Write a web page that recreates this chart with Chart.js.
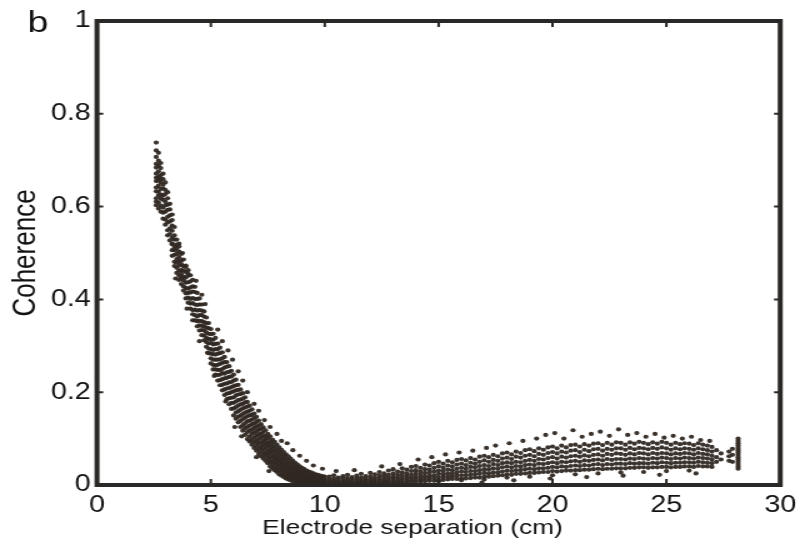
<!DOCTYPE html>
<html>
<head>
<meta charset="utf-8">
<script src="https://cdn.jsdelivr.net/npm/chart.js@4.4.1/dist/chart.umd.min.js"></script>
<style>
  html, body { margin: 0; padding: 0; background: #fff; overflow: hidden; }
  /* the scanned figure is stretched horizontally, so the whole chart is too */
  #wrap { width: 644px; height: 547px; transform: scaleX(1.25); transform-origin: 0 0; }
</style>
</head>
<body>
<div id="wrap"><canvas id="chart"></canvas></div>
<script>
// Coherence vs electrode separation.
const xTicks = [0, 5, 10, 15, 20, 25, 30];
const yTicks = [0, 0.2, 0.4, 0.6, 0.8, 1];

// steep fall, one column of points per separation (cm)
const descentSep = [2.6, 2.7, 2.8, 2.9, 3.0, 3.1, 3.2, 3.3, 3.4, 3.5, 3.6, 3.7, 3.8, 3.9,
  4.0, 4.1, 4.2, 4.3, 4.4, 4.5, 4.6, 4.7, 4.8, 4.9, 5.0, 5.1, 5.2, 5.3, 5.4, 5.5, 5.6, 5.7,
  5.8, 5.9, 6.0, 6.1, 6.2, 6.3, 6.4, 6.5, 6.6, 6.7, 6.8, 6.9, 7.0, 7.1, 7.2, 7.3, 7.4, 7.5,
  7.6, 7.7, 7.8, 7.9, 8.0, 8.1, 8.2, 8.3, 8.4, 8.5, 8.6, 8.7, 8.8, 8.9, 9.0, 9.1, 9.2, 9.3,
  9.4, 9.5, 9.6, 9.7, 9.8, 9.9, 10.0];
const descentCoh = [
  [.738, .721, .707, .692, .684, .671, .662, .655, .641, .633, .618, .611, .603],
  [.716, .699, .688, .676, .664, .657, .645, .632, .624, .609, .596],
  [.694, .683, .668, .661, .652, .638, .626, .617, .602, .589],
  [.671, .659, .647, .639, .624, .615, .598, .587, .574],
  [.652, .636, .627, .611, .603, .589, .572, .561],
  [.631, .618, .604, .593, .578, .566, .549, .538],
  [.606, .594, .581, .568, .553, .541, .527],
  [.583, .571, .559, .548, .533, .519, .506, .494],
  [.556, .538, .529, .513, .506, .496, .481, .472],
  [.529, .518, .509, .498, .487, .479, .468, .457],
  [.514, .503, .491, .482, .473, .462, .451, .442],
  [.498, .484, .476, .463, .455, .446, .433],
  [.486, .471, .462, .449, .441, .428, .419],
  [.473, .459, .447, .436, .425, .413, .402],
  [.463, .451, .437, .423, .414, .404, .393],
  [.452, .439, .426, .415, .401, .391, .38],
  [.442, .428, .417, .403, .392, .377, .368],
  [.427, .416, .401, .389, .378, .366, .355],
  [.414, .401, .388, .376, .363, .353, .342],
  [.402, .389, .377, .366, .354, .344, .333],
  [.389, .376, .366, .353, .343, .334, .323],
  [.374, .363, .351, .342, .333, .322, .312],
  [.361, .349, .339, .329, .317, .308, .298],
  [.349, .338, .326, .315, .305, .294, .284],
  [.336, .325, .314, .306, .293, .283, .273, .262],
  [.326, .313, .303, .291, .282, .27, .259, .249],
  [.317, .304, .293, .281, .27, .258, .249, .238],
  [.305, .293, .283, .27, .259, .248, .237, .225],
  [.296, .284, .271, .261, .248, .238, .226, .215],
  [.286, .273, .263, .25, .241, .228, .216, .204],
  [.276, .265, .253, .24, .23, .218, .206, .194],
  [.265, .255, .243, .231, .219, .208, .197, .185],
  [.256, .244, .233, .221, .209, .198, .187, .174],
  [.246, .234, .222, .211, .2, .188, .177, .164],
  [.238, .225, .213, .202, .189, .177, .165, .15],
  [.227, .215, .204, .193, .18, .168, .156, .143],
  [.216, .205, .195, .183, .171, .159, .147, .135],
  [.206, .196, .184, .174, .162, .15, .138, .125],
  [.198, .186, .175, .165, .153, .142, .129, .117],
  [.189, .178, .167, .156, .145, .133, .122, .108],
  [.179, .169, .158, .148, .137, .125, .114, .099],
  [.171, .16, .15, .139, .128, .117, .105, .094],
  [.163, .151, .141, .131, .12, .11, .098, .087],
  [.154, .144, .133, .123, .113, .102, .092, .08],
  [.147, .136, .126, .116, .106, .095, .085, .074],
  [.139, .128, .119, .109, .099, .089, .079, .067],
  [.131, .121, .111, .102, .092, .082, .073, .062],
  [.124, .114, .105, .095, .086, .077, .067, .057],
  [.118, .106, .098, .089, .08, .07, .062, .052],
  [.11, .101, .091, .083, .074, .065, .056, .047],
  [.105, .094, .085, .076, .068, .059, .05, .04],
  [.098, .089, .08, .071, .062, .053, .045, .036],
  [.093, .083, .074, .065, .057, .049, .04, .032],
  [.087, .077, .069, .06, .052, .044, .036, .028],
  [.081, .072, .064, .055, .047, .04, .032, .023],
  [.076, .067, .058, .05, .043, .035, .028, .02],
  [.071, .062, .054, .046, .039, .032, .024, .017],
  [.066, .057, .049, .042, .035, .028, .021, .014],
  [.062, .053, .045, .038, .032, .025, .018, .012],
  [.057, .048, .041, .035, .028, .022, .016, .01],
  [.052, .044, .037, .031, .025, .019, .013, .008],
  [.048, .04, .034, .028, .022, .017, .012, .007],
  [.044, .037, .03, .025, .019, .014, .01, .006],
  [.04, .033, .027, .022, .017, .012, .008, .005],
  [.037, .03, .025, .02, .015, .011, .007, .004],
  [.034, .028, .022, .018, .013, .009, .006, .003],
  [.031, .025, .02, .016, .012, .008, .005, .002],
  [.029, .023, .018, .014, .01, .007, .004],
  [.027, .021, .016, .012, .009, .006, .003],
  [.025, .019, .015, .011, .008, .005, .002],
  [.023, .018, .013, .01, .007, .004, .002],
  [.022, .016, .012, .009, .006, .003],
  [.02, .015, .011, .008, .005, .002],
  [.019, .014, .01, .007, .004, .002],
  [.018, .013, .009, .006, .004, .001]
];

// slow rise after the minimum
const riseSep = [10.2, 10.4, 10.6, 10.8, 11, 11.2, 11.4, 11.6, 11.8, 12, 12.2, 12.4, 12.6, 12.8,
  13, 13.2, 13.4, 13.6, 13.8, 14, 14.2, 14.4, 14.6, 14.8, 15, 15.2, 15.4, 15.6, 15.8, 16,
  16.2, 16.4, 16.6, 16.8, 17, 17.2, 17.4, 17.6, 17.8, 18, 18.2, 18.4, 18.6, 18.8, 19, 19.2,
  19.4, 19.6, 19.8, 20, 20.2, 20.4, 20.6, 20.8, 21, 21.2, 21.4, 21.6, 21.8, 22, 22.2, 22.4,
  22.6, 22.8, 23, 23.2, 23.4, 23.6, 23.8, 24, 24.2, 24.4, 24.6, 24.8, 25, 25.2, 25.4, 25.6,
  25.8, 26, 26.2, 26.4, 26.6, 26.8, 27];
const riseCoh = [
  [.018, .012, .008, .005, .003, .001],
  [.021, .014, .009, .006, .003, .001],
  [.016, .011, .007, .004, .002, 0],
  [.019, .013, .008, .005, .002, .001],
  [.022, .015, .01, .006, .003, .001],
  [.017, .012, .008, .004, .002, 0],
  [.02, .014, .009, .005, .003, .001],
  [.024, .016, .011, .007, .004, .001],
  [.019, .013, .009, .005, .002, .001],
  [.026, .018, .012, .008, .004, .002],
  [.023, .016, .011, .007, .004, .002],
  [.028, .02, .014, .009, .005, .002],
  [.025, .019, .013, .009, .006, .003],
  [.031, .022, .016, .011, .007, .003],
  [.034, .025, .018, .013, .008, .004],
  [.029, .022, .016, .011, .007, .004],
  [.036, .027, .02, .014, .009, .005],
  [.033, .025, .019, .014, .009, .005],
  [.039, .03, .022, .016, .011, .006],
  [.041, .032, .025, .018, .012, .007],
  [.037, .029, .022, .016, .011, .007],
  [.044, .034, .026, .019, .013, .008],
  [.042, .033, .026, .019, .014, .009],
  [.047, .037, .029, .021, .015, .009],
  [.05, .04, .031, .024, .017, .011, .008],
  [.046, .037, .03, .023, .017, .011],
  [.052, .042, .033, .025, .018, .012],
  [.049, .04, .032, .025, .019, .013],
  [.054, .044, .035, .027, .02, .013],
  [.056, .046, .037, .029, .021, .014, .01],
  [.053, .043, .035, .028, .021, .014],
  [.058, .048, .039, .03, .022, .015],
  [.055, .046, .038, .03, .023, .016],
  [.061, .05, .041, .032, .024, .016],
  [.063, .053, .043, .034, .026, .018, .012],
  [.06, .05, .041, .033, .025, .018],
  [.065, .054, .045, .036, .027, .019],
  [.062, .052, .043, .035, .027, .02],
  [.068, .057, .047, .038, .029, .021],
  [.07, .059, .049, .04, .031, .023, .016],
  [.066, .056, .047, .038, .03, .022],
  [.072, .061, .05, .041, .032, .024],
  [.069, .059, .049, .04, .032, .024],
  [.075, .063, .052, .043, .034, .025],
  [.077, .065, .054, .044, .035, .026, .018],
  [.073, .062, .052, .043, .034, .026],
  [.079, .067, .056, .046, .036, .027],
  [.076, .065, .055, .045, .036, .028],
  [.081, .069, .058, .047, .037, .028],
  [.083, .071, .06, .049, .039, .03, .021],
  [.079, .068, .057, .047, .038, .029],
  [.085, .072, .061, .05, .04, .03],
  [.081, .07, .059, .049, .039, .031],
  [.086, .074, .062, .051, .041, .031],
  [.087, .075, .063, .052, .042, .032, .023],
  [.083, .071, .061, .05, .041, .032],
  [.088, .076, .064, .053, .043, .033],
  [.085, .073, .062, .052, .042, .033],
  [.089, .077, .065, .054, .044, .034],
  [.09, .078, .066, .055, .045, .035, .025],
  [.086, .074, .063, .053, .043, .034],
  [.091, .078, .067, .056, .045, .035],
  [.087, .076, .065, .054, .044, .035],
  [.092, .079, .068, .056, .046, .036],
  [.091, .079, .067, .056, .046, .036, .027],
  [.087, .076, .065, .055, .045, .036],
  [.092, .08, .068, .057, .047, .037],
  [.089, .077, .066, .056, .046, .037],
  [.093, .08, .069, .058, .047, .038],
  [.091, .079, .068, .057, .047, .038, .028],
  [.088, .077, .066, .056, .046, .037],
  [.092, .08, .069, .058, .048, .038],
  [.089, .078, .067, .057, .047, .038],
  [.093, .081, .069, .059, .049, .039],
  [.091, .079, .068, .058, .048, .039, .03],
  [.087, .076, .066, .056, .047, .038],
  [.091, .079, .068, .058, .048, .039],
  [.088, .077, .067, .057, .048, .039],
  [.09, .079, .069, .059, .049, .04],
  [.089, .078, .068, .058, .049, .04, .031],
  [.086, .076, .066, .057, .048, .039],
  [.09, .079, .069, .059, .05, .041],
  [.087, .077, .067, .058, .049, .04],
  [.085, .075, .066, .057, .048, .04],
  [.082, .072, .063, .055, .047, .039]
];

// scattered dots off the main band
const strayPoints = [
  [3.3, .52], [3.45, .445], [3.6, .52], [3.75, .50], [3.9, .47], [4.0, .455], [4.35, .44],
  [4.6, .41], [4.75, .39], [4.5, .31], [4.85, .285], [5.3, .335], [5.5, .31], [5.75, .29],
  [5.95, .27], [6.2, .245], [6.4, .225], [6.05, .125], [6.6, .2], [6.9, .175], [7.1, .16],
  [7.35, .14], [7.6, .125], [7.9, .11], [8.1, .095], [8.35, .09], [8.6, .075], [8.9, .063],
  [9.2, .052], [9.5, .042], [9.9, .035], [4.2, .355], [3.95, .38], [5.15, .235], [5.65, .18],
  [6.35, .105], [7.0, .06], [7.55, .03], [10.5, .03], [11.3, .032], [12.5, .04], [13.3, .045],
  [14.1, .055], [14.7, .06], [15.3, .066], [15.9, .07], [16.5, .074], [17.1, .08], [17.5, .085],
  [18.1, .09], [18.7, .095], [19.3, .1], [19.7, .108], [20.1, .112], [20.5, .1], [20.9, .118],
  [21.3, .104], [21.7, .11], [22.1, .115], [22.5, .106], [22.9, .12], [23.3, .108], [23.7, .112],
  [24.1, .104], [24.5, .11], [24.9, .102], [25.3, .106], [25.7, .1], [26.1, .104], [26.5, .097],
  [26.9, .095], [16.9, .005], [18.3, .01], [19.9, .014], [21.5, .017], [23.1, .02], [24.7, .022],
  [26.3, .025]
];

// sparse columns past the cloud and the short stack at ~28 cm
const tailPoints = [
  [27.2, .075], [27.2, .06], [27.2, .05], [27.4, .068], [27.4, .055], [27.75, .072], [27.75, .062],
  [27.75, .052], [27.9, .078], [27.9, .065], [27.9, .05],
  [28.15, .035], [28.15, .04], [28.15, .045], [28.15, .05], [28.15, .055], [28.15, .06],
  [28.15, .065], [28.15, .07], [28.15, .075], [28.15, .08], [28.15, .085], [28.15, .09],
  [28.15, .095], [28.15, .1]
];

const FONT = '"Liberation Sans", Arial, Helvetica, sans-serif';
const INK = '#111';

function columnsToPoints(seps, cohs) {
  const pts = [];
  seps.forEach((s, i) => (cohs[i] || []).forEach(c => pts.push({ x: s, y: c })));
  return pts;
}

const allPoints = [
  ...columnsToPoints(descentSep, descentCoh),
  ...columnsToPoints(riseSep, riseCoh),
  ...strayPoints.map(p => ({ x: p[0], y: p[1] })),
  ...tailPoints.map(p => ({ x: p[0], y: p[1] }))
];

// box frame with inward ticks, the x title (set left of centre) and the panel letter
const framePlugin = {
  id: 'frame',
  afterDatasetsDraw(chart) {
    const { ctx, chartArea: a, scales: { x, y } } = chart;
    ctx.save();
    ctx.strokeStyle = '#2a2826';
    ctx.lineWidth = 2;
    ctx.beginPath();
    xTicks.forEach(v => {
      const px = x.getPixelForValue(v);
      ctx.moveTo(px, a.bottom); ctx.lineTo(px, a.bottom - 6);
      ctx.moveTo(px, a.top); ctx.lineTo(px, a.top + 6);
    });
    yTicks.forEach(v => {
      const py = y.getPixelForValue(v);
      ctx.moveTo(a.left, py); ctx.lineTo(a.left + 5, py);
      ctx.moveTo(a.right, py); ctx.lineTo(a.right - 5, py);
    });
    ctx.stroke();
    ctx.lineWidth = 4;
    ctx.strokeRect(a.left, a.top, a.width, a.height);

    ctx.fillStyle = INK;
    ctx.textBaseline = 'alphabetic';
    ctx.textAlign = 'center';
    ctx.font = '21px ' + FONT;
    ctx.fillText('Electrode separation (cm)', 330, 534);
    ctx.textAlign = 'left';
    ctx.font = '30px ' + FONT;
    ctx.fillText('b', 22, 32);
    ctx.restore();
  }
};

new Chart(document.getElementById('chart'), {
  type: 'scatter',
  data: {
    datasets: [{
      data: allPoints,
      backgroundColor: 'rgba(48,40,34,0.95)',
      borderWidth: 0,
      pointRadius: 2.1,
      pointHoverRadius: 2.1
    }]
  },
  options: {
    responsive: true,
    maintainAspectRatio: false,
    animation: false,
    events: [],
    layout: { padding: { top: 21, right: 13.6, left: 0, bottom: 0 } },
    plugins: { legend: { display: false }, tooltip: { enabled: false } },
    scales: {
      x: {
        type: 'linear',
        min: 0,
        max: 30,
        grid: { display: false, drawTicks: false },
        border: { display: false },
        ticks: { stepSize: 5, padding: 7, color: INK, font: { family: FONT, size: 23 } },
        title: { display: false },
        afterFit(scale) { scale.height = 62; }
      },
      y: {
        min: 0,
        max: 1,
        grid: { display: false, drawTicks: false },
        border: { display: false },
        ticks: {
          stepSize: 0.2,
          padding: 5,
          color: INK,
          font: { family: FONT, size: 23 },
          callback: v => String(+v.toFixed(1))
        },
        title: {
          display: true,
          text: 'Coherence',
          color: INK,
          font: { family: FONT, size: 26 },
          padding: { top: 5, bottom: 0 }
        },
        afterFit(scale) { scale.width = 77.6; }
      }
    }
  },
  plugins: [framePlugin]
});
</script>
</body>
</html>
